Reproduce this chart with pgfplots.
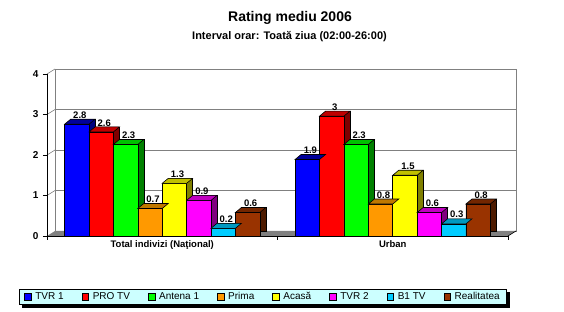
\documentclass[border=0pt]{standalone}
\usepackage{fontspec}
\setmainfont{Liberation Sans}
\usepackage{pgfplots}
\pgfplotsset{compat=1.18}

\definecolor{cBlueF}{HTML}{0000FF}\definecolor{cBlueT}{HTML}{000099}\definecolor{cBlueS}{HTML}{000080}
\definecolor{cRedF}{HTML}{FF0000}\definecolor{cRedT}{HTML}{C00000}\definecolor{cRedS}{HTML}{800000}
\definecolor{cGreenF}{HTML}{00FF00}\definecolor{cGreenT}{HTML}{00C000}\definecolor{cGreenS}{HTML}{008000}
\definecolor{cOrF}{HTML}{FF9900}\definecolor{cOrT}{HTML}{C07800}\definecolor{cOrS}{HTML}{804C00}
\definecolor{cYeF}{HTML}{FFFF00}\definecolor{cYeT}{HTML}{C0C000}\definecolor{cYeS}{HTML}{808000}
\definecolor{cMaF}{HTML}{FF00FF}\definecolor{cMaT}{HTML}{C000C0}\definecolor{cMaS}{HTML}{800080}
\definecolor{cCyF}{HTML}{00CCFF}\definecolor{cCyT}{HTML}{0099C0}\definecolor{cCyS}{HTML}{006680}
\definecolor{cBrF}{HTML}{993300}\definecolor{cBrT}{HTML}{732600}\definecolor{cBrS}{HTML}{4D1A00}
\definecolor{cLeg}{HTML}{CCFFFF}
\definecolor{cWall}{HTML}{808080}

\pgfdeclareplotmark{topface}{%
  \pgfpathmoveto{\pgfqpoint{-12.2pt}{0pt}}%
  \pgfpathlineto{\pgfqpoint{-6.2pt}{5pt}}%
  \pgfpathlineto{\pgfqpoint{18.2pt}{5pt}}%
  \pgfpathlineto{\pgfqpoint{12.2pt}{0pt}}%
  \pgfpathclose
  \pgfusepathqfillstroke}

\pgfplotsset{
  sideface/.style={ybar, bar width=24.4pt, bar shift=0pt, fill=#1, draw=black, line width=0.6pt,
    xshift=6pt, yshift=5pt, forget plot, mark=none},
  frontface/.style n args={2}{ybar, bar width=24.4pt, bar shift=0pt, fill=#1, draw=black, line width=0.6pt,
    mark=topface, mark options={fill=#2, draw=black, line width=0.6pt},
    legend image code/.code={\draw[fill=#1,line width=0.5pt] (0pt,-3.3pt) rectangle (6.6pt,3.3pt);},
    point meta=explicit symbolic,
    nodes near coords,
    every node near coord/.append style={font=\bfseries\fontsize{9.5}{10}\selectfont, text=black,
      anchor=south, xshift=3pt, yshift=4.5pt, inner sep=1pt}},
}

\begin{document}
\begin{tikzpicture}
\path[use as bounding box] (-47pt,-76pt) rectangle (517pt,236pt);
% shadow of the legend box (legend spans about x=-29..461, y=-68..-53 in these coordinates)
% back wall and floor
\begin{axis}[
  at={(8pt,5pt)}, anchor=south west,
  scale only axis, width=461pt, height=162pt,
  xmin=0, xmax=2, ymin=0, ymax=4,
  xtick=\empty, ytick={1,2,3,4}, yticklabels={},
  major tick length=0pt,
  ymajorgrids, grid style={cWall, line width=0.6pt},
  axis line style={cWall, line width=0.6pt},
  clip=false,
]
\fill[cWall] (axis cs:0,0) -- (axis cs:2,0) -- ([shift={(-8pt,-5pt)}]axis cs:2,0) -- ([shift={(-8pt,-5pt)}]axis cs:0,0) -- cycle;
\draw[cWall, line width=0.6pt] (axis cs:0,1) -- ([shift={(-8pt,-5pt)}]axis cs:0,1);
\draw[cWall, line width=0.6pt] (axis cs:0,2) -- ([shift={(-8pt,-5pt)}]axis cs:0,2);
\draw[cWall, line width=0.6pt] (axis cs:0,3) -- ([shift={(-8pt,-5pt)}]axis cs:0,3);
\draw[cWall, line width=0.6pt] (axis cs:0,4) -- ([shift={(-8pt,-5pt)}]axis cs:0,4);
\draw[black, line width=0.6pt] (axis cs:2,0) -- ([shift={(-8pt,-5pt)}]axis cs:2,0);
\end{axis}
% front axis
\begin{axis}[
  at={(0pt,0pt)}, anchor=south west,
  scale only axis, width=461pt, height=162pt,
  xmin=0, xmax=2, ymin=0, ymax=4,
  axis lines*=left, axis line style={-, black, line width=0.6pt},
  xtick={0,1,2}, xticklabels={},
  extra x ticks={0.5,1.5},
  extra x tick labels={Total indivizi (Naţional), Urban},
  extra x tick style={major tick length=0pt, ticklabel style={font=\bfseries\fontsize{9.5}{10}\selectfont, yshift=-1pt}},
  ytick={0,1,2,3,4},
  yticklabel style={font=\bfseries\fontsize{10}{10}\selectfont, xshift=-1pt},
  tick align=outside, major tick length=4pt,
  tick style={black, line width=0.6pt},
  /pgf/number format/assume math mode=true,
  clip=false,
  legend columns=8,
  legend style={at={(axis description cs:0.4685,-0.3765)}, anchor=center, name=leg,
    fill=cLeg, draw=black, line width=0.6pt, font=\fontsize{10}{11}\selectfont,
    inner xsep=5pt, inner ysep=1pt,
    /tikz/every odd column/.append style={column sep=2pt},
    /tikz/every even column/.append style={column sep=16pt}},
]
\addplot[sideface=cBlueS] coordinates {(0.1295,2.76) (1.1295,1.89)};
\addplot[frontface={cBlueF}{cBlueT}] coordinates {(0.1295,2.76) [2.8] (1.1295,1.89) [1.9]};
\addlegendentry{TVR 1}
\addplot[sideface=cRedS] coordinates {(0.2354,2.57) (1.2354,2.96)};
\addplot[frontface={cRedF}{cRedT}] coordinates {(0.2354,2.57) [2.6] (1.2354,2.96) [3]};
\addlegendentry{PRO TV}
\addplot[sideface=cGreenS] coordinates {(0.3412,2.26) (1.3412,2.26)};
\addplot[frontface={cGreenF}{cGreenT}] coordinates {(0.3412,2.26) [2.3] (1.3412,2.26) [2.3]};
\addlegendentry{Antena 1}
\addplot[sideface=cOrS] coordinates {(0.4471,0.68) (1.4471,0.79)};
\addplot[frontface={cOrF}{cOrT}] coordinates {(0.4471,0.68) [0.7] (1.4471,0.79) [0.8]};
\addlegendentry{Prima}
\addplot[sideface=cYeS] coordinates {(0.5529,1.30) (1.5529,1.50)};
\addplot[frontface={cYeF}{cYeT}] coordinates {(0.5529,1.30) [1.3] (1.5529,1.50) [1.5]};
\addlegendentry{Acasă}
\addplot[sideface=cMaS] coordinates {(0.6588,0.88) (1.6588,0.58)};
\addplot[frontface={cMaF}{cMaT}] coordinates {(0.6588,0.88) [0.9] (1.6588,0.58) [0.6]};
\addlegendentry{TVR 2}
\addplot[sideface=cCyS] coordinates {(0.7646,0.19) (1.7646,0.30)};
\addplot[frontface={cCyF}{cCyT}] coordinates {(0.7646,0.19) [0.2] (1.7646,0.30) [0.3]};
\addlegendentry{B1 TV}
\addplot[sideface=cBrS] coordinates {(0.8705,0.58) (1.8705,0.79)};
\addplot[frontface={cBrF}{cBrT}] coordinates {(0.8705,0.58) [0.6] (1.8705,0.79) [0.8]};
\addlegendentry{Realitatea}
\end{axis}
\fill[black] ([xshift=3pt,yshift=-3pt]leg.south west) rectangle ([xshift=3pt]leg.south east);
\fill[black] ([yshift=-3pt]leg.north east) rectangle ([xshift=3pt,yshift=-3pt]leg.south east);
\node[font=\bfseries\fontsize{14}{15}\selectfont] at (243pt,218pt) {Rating mediu 2006};
\node[font=\bfseries\fontsize{11}{12}\selectfont] at (242.5pt,199pt) {Interval orar: Toată ziua (02:00-26:00)};
\end{tikzpicture}
\end{document}
